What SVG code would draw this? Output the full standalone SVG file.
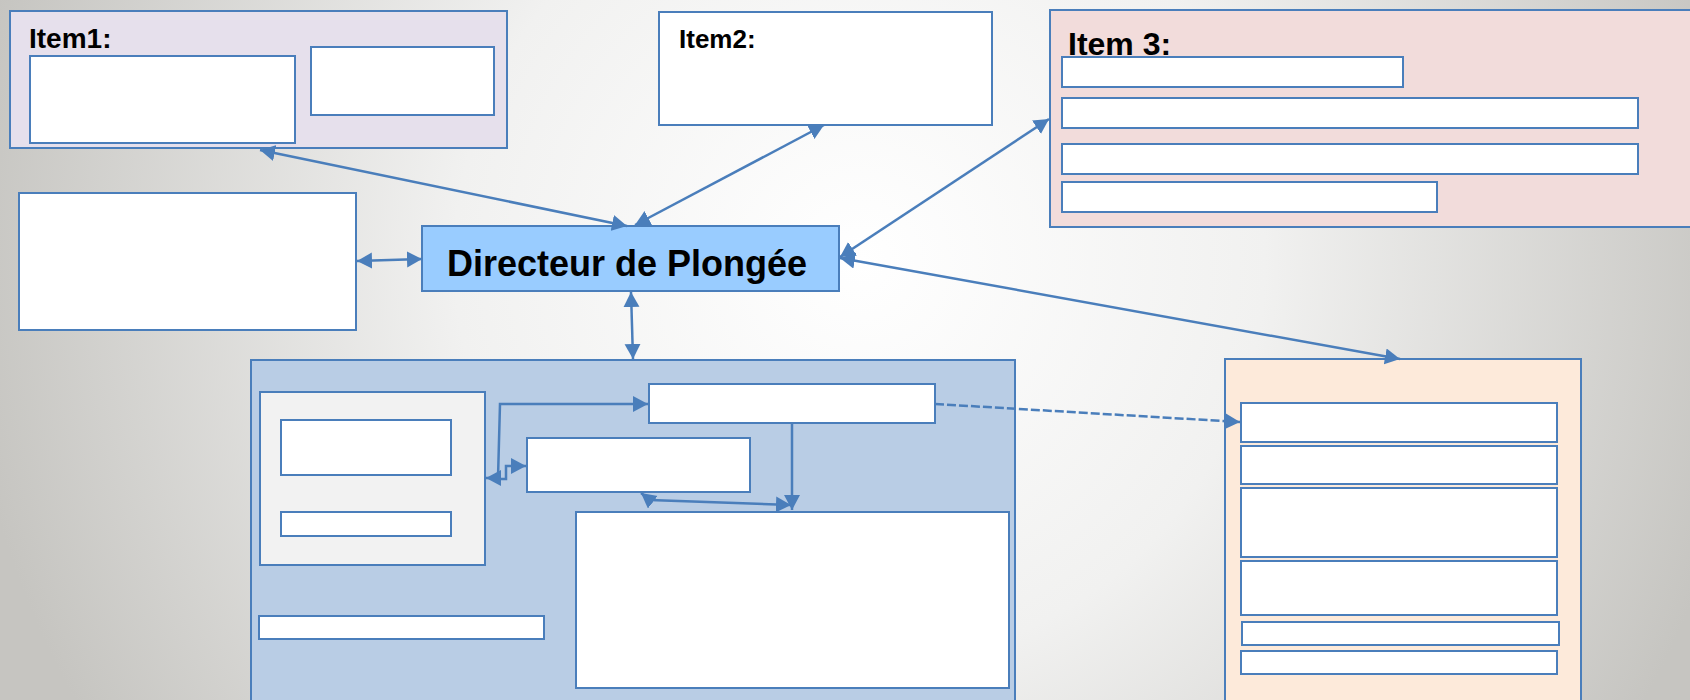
<svg xmlns="http://www.w3.org/2000/svg" width="1690" height="700" viewBox="0 0 1690 700">
  <defs>
    <radialGradient id="bg" gradientUnits="userSpaceOnUse" cx="860" cy="260" r="900">
      <stop offset="0" stop-color="#FFFFFF"/>
      <stop offset="0.45" stop-color="#F1F1F0"/>
      <stop offset="1" stop-color="#C6C5C1"/>
    </radialGradient>
    <marker id="arr" markerUnits="userSpaceOnUse" markerWidth="16" markerHeight="17" refX="15" refY="8" orient="auto-start-reverse">
      <path d="M0,0 L15,8 L0,16 z" fill="#4A7EBB"/>
    </marker>
  </defs>
  <style>
    .box { stroke: #4A7EBB; stroke-width: 2; }
    .white { fill: #FFFFFF; }
    .conn { fill: none; stroke: #4A7EBB; stroke-width: 2.5; }
    .dash { stroke-dasharray: 9 3; }
    .lbl { font-family: "Liberation Sans", Arial, sans-serif; font-weight: bold; fill: #000000; }
  </style>

  <rect x="0" y="0" width="1690" height="700" fill="url(#bg)"/>

  <g id="item1">
    <rect class="box" x="10" y="11" width="497" height="137" fill="#E6E0EC"/>
    <text class="lbl" x="29" y="48" font-size="28">Item1:</text>
    <rect class="box white" x="30" y="56" width="265" height="87"/>
    <rect class="box white" x="311" y="47" width="183" height="68"/>
  </g>

  <g id="item2">
    <rect class="box white" x="659" y="12" width="333" height="113"/>
    <text class="lbl" x="679" y="48" font-size="26">Item2:</text>
  </g>

  <g id="item3">
    <rect class="box" x="1050" y="10" width="660" height="217" fill="#F2DCDB"/>
    <text class="lbl" x="1068" y="55" font-size="32">Item 3:</text>
    <rect class="box white" x="1062" y="57" width="341" height="30"/>
    <rect class="box white" x="1062" y="98" width="576" height="30"/>
    <rect class="box white" x="1062" y="144" width="576" height="30"/>
    <rect class="box white" x="1062" y="182" width="375" height="30"/>
  </g>

  <g id="left-box">
    <rect class="box white" x="19" y="193" width="337" height="137"/>
  </g>

  <g id="directeur">
    <rect class="box" x="422" y="226" width="417" height="65" fill="#99CCFF"/>
    <text class="lbl" x="627" y="276" font-size="36" text-anchor="middle">Directeur de Plongée</text>
  </g>

  <g id="blue-group">
    <rect class="box" x="251" y="360" width="764" height="360" fill="#B9CDE5"/>
    <rect class="box" x="260" y="392" width="225" height="173" fill="#F2F2F2"/>
    <rect class="box white" x="281" y="420" width="170" height="55"/>
    <rect class="box white" x="281" y="512" width="170" height="24"/>
    <rect class="box white" x="259" y="616" width="285" height="23"/>
    <rect class="box white" x="649" y="384" width="286" height="39"/>
    <rect class="box white" x="527" y="438" width="223" height="54"/>
    <rect class="box white" x="576" y="512" width="433" height="176"/>
  </g>

  <g id="orange-group">
    <rect class="box" x="1225" y="359" width="356" height="360" fill="#FDEADA"/>
    <rect class="box white" x="1241" y="403" width="316" height="39"/>
    <rect class="box white" x="1241" y="446" width="316" height="38"/>
    <rect class="box white" x="1241" y="488" width="316" height="69"/>
    <rect class="box white" x="1241" y="561" width="316" height="54"/>
    <rect class="box white" x="1242" y="622" width="317" height="23"/>
    <rect class="box white" x="1241" y="651" width="316" height="23"/>
  </g>

  <g id="connectors">
    <line class="conn" x1="260" y1="150" x2="627" y2="226" marker-start="url(#arr)" marker-end="url(#arr)"/>
    <line class="conn" x1="824" y1="125" x2="635" y2="225" marker-start="url(#arr)" marker-end="url(#arr)"/>
    <line class="conn" x1="357" y1="261" x2="422" y2="259" marker-start="url(#arr)" marker-end="url(#arr)"/>
    <line class="conn" x1="631" y1="292" x2="633" y2="359" marker-start="url(#arr)" marker-end="url(#arr)"/>
    <line class="conn" x1="840" y1="257" x2="1049" y2="119" marker-start="url(#arr)" marker-end="url(#arr)"/>
    <line class="conn" x1="840" y1="258" x2="1400" y2="359" marker-start="url(#arr)" marker-end="url(#arr)"/>
    <path class="conn" d="M486,478 L498,478 L500,404 L648,404" marker-start="url(#arr)" marker-end="url(#arr)"/>
    <path class="conn" d="M500,479 L506,479 L506,466 L526,466" marker-end="url(#arr)"/>
    <path class="conn" d="M792,423 L792,510" marker-end="url(#arr)"/>
    <path class="conn" d="M791,505 L650,500 L641,493" marker-start="url(#arr)" marker-end="url(#arr)"/>
    <path class="conn dash" d="M935,404 L1240,422" marker-end="url(#arr)"/>
  </g>
</svg>
